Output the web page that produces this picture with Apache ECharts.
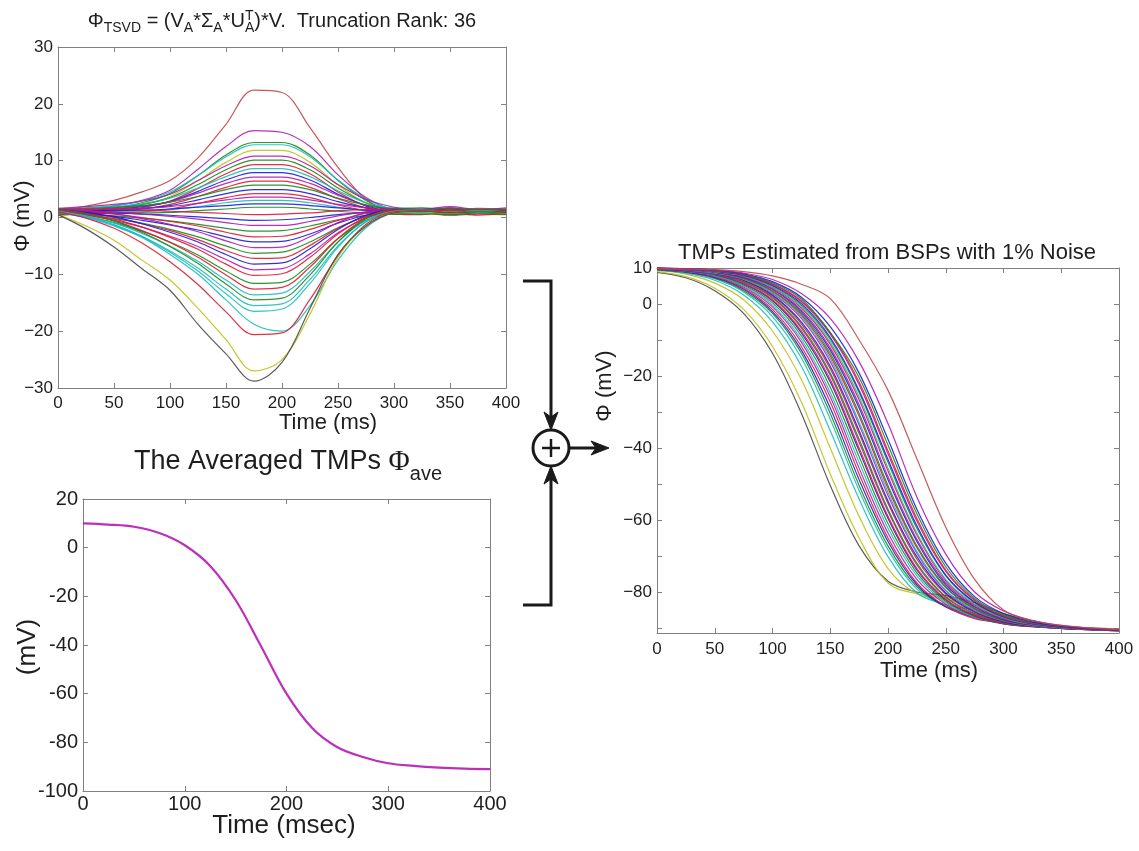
<!DOCTYPE html>
<html>
<head>
<meta charset="utf-8">
<title>TSVD TMP estimation</title>
<script src="https://cdn.jsdelivr.net/npm/echarts@6/dist/echarts.min.js"></script>
<style>
  html, body { margin: 0; padding: 0; background: #ffffff; }
  #chart { width: 1139px; height: 851px; }
</style>
</head>
<body>
<div id="chart"></div>
<script>
// ---------------------------------------------------------------------------
// Data
// ---------------------------------------------------------------------------
// Sample times (ms) shared by every curve
const timeMs = [0, 25, 50, 75, 100, 125, 150, 175, 200, 225, 250, 275, 300, 325, 350, 375, 400];

// Phi_TSVD = (V_A * Sigma_A * U_A^T) * V, one row per lead (mV)
const tsvdResidual = [
  [1.0, 2.0, 3.0, 4.5, 6.5, 10.5, 16.4, 22.4, 22.0, 15.8, 8.8, 3.2, 1.0, 1.2, 0.8, 1.3, 1.0],
  [1.0, 1.5, 2.0, 3.0, 4.8, 8.5, 12.5, 15.3, 15.0, 12.5, 7.5, 3.5, 1.3, 1.0, 1.2, 0.9, 1.1],
  [0.8, 1.2, 1.7, 2.6, 4.2, 7.4, 11.0, 13.2, 13.2, 11.0, 6.5, 3.0, 1.1, 0.9, 1.2, 0.7, 1.0],
  [1.3, 1.7, 2.1, 2.9, 4.5, 7.4, 10.7, 12.8, 12.8, 10.7, 6.6, 3.3, 1.5, 1.4, 0.9, 1.3, 1.1],
  [0.6, 0.9, 1.4, 2.2, 3.7, 6.5, 9.7, 11.8, 11.8, 9.7, 5.7, 2.5, 0.8, 1.1, 0.6, 1.0, 0.8],
  [1.6, 1.9, 2.3, 2.9, 4.1, 6.5, 9.1, 10.8, 10.8, 9.1, 5.8, 3.2, 1.8, 1.5, 1.9, 1.4, 1.7],
  [1.0, 1.3, 1.7, 2.3, 3.5, 5.8, 8.4, 10.1, 10.1, 8.4, 5.2, 2.6, 1.2, 1.0, 1.3, 0.8, 1.2],
  [0.4, 0.7, 1.0, 1.7, 2.9, 5.1, 7.7, 9.3, 9.3, 7.7, 4.5, 2.0, 0.6, 0.5, 0.9, 0.4, 0.7],
  [1.4, 1.6, 1.9, 2.4, 3.4, 5.2, 7.2, 8.6, 8.6, 7.2, 4.7, 2.6, 1.6, 1.3, 1.7, 1.2, 1.5],
  [0.9, 1.1, 1.4, 1.9, 2.8, 4.6, 6.6, 7.9, 7.9, 6.6, 4.1, 2.1, 1.0, 1.2, 0.8, 1.1, 0.9],
  [1.2, 1.4, 1.6, 2.0, 2.8, 4.3, 6.0, 7.1, 7.1, 6.0, 3.9, 2.2, 1.3, 1.1, 1.5, 1.0, 1.3],
  [0.7, 0.9, 1.1, 1.5, 2.3, 3.7, 5.3, 6.4, 6.4, 5.3, 3.3, 1.7, 0.8, 0.6, 1.0, 0.7, 0.9],
  [1.5, 1.6, 1.8, 2.1, 2.7, 3.7, 4.9, 5.7, 5.7, 4.9, 3.4, 2.2, 1.6, 1.7, 1.3, 1.6, 1.4],
  [1.0, 1.1, 1.3, 1.6, 2.1, 3.1, 4.2, 4.9, 4.9, 4.2, 2.8, 1.7, 1.0, 1.2, 0.9, 1.1, 1.0],
  [0.5, 0.6, 0.8, 1.0, 1.5, 2.5, 3.5, 4.2, 4.2, 3.5, 2.2, 1.2, 0.6, 0.7, 0.4, 0.6, 0.5],
  [1.3, 1.4, 1.5, 1.6, 1.9, 2.5, 3.1, 3.6, 3.6, 3.1, 2.3, 1.7, 1.3, 1.5, 1.2, 1.4, 1.3],
  [0.8, 0.9, 1.0, 1.1, 1.4, 1.9, 2.6, 3.0, 3.0, 2.6, 1.8, 1.2, 0.8, 1.0, 0.7, 0.9, 0.8],
  [1.1, 1.1, 1.2, 1.3, 1.5, 1.8, 2.1, 2.4, 2.4, 2.1, 1.7, 1.3, 1.1, 1.2, 1.0, 1.2, 1.1],
  [0.6, 0.6, 0.7, 0.8, 0.9, 1.2, 1.5, 1.8, 1.8, 1.5, 1.1, 0.8, 0.6, 0.8, 0.5, 0.7, 0.6],
  [1.5, 1.5, 1.4, 1.3, 1.1, 0.9, 0.7, 0.5, 0.6, 0.8, 1.2, 1.4, 1.5, 1.3, 1.6, 1.4, 1.5],
  [1.0, 0.9, 0.8, 0.6, 0.4, 0.1, -0.2, -0.5, -0.4, 0.0, 0.5, 0.9, 1.0, 1.2, 0.8, 1.1, 0.9],
  [1.3, 1.2, 0.9, 0.6, 0.2, -0.3, -0.9, -1.4, -1.4, -0.7, 0.3, 1.0, 1.3, 1.1, 1.4, 1.2, 1.3],
  [0.7, 0.5, 0.3, -0.1, -0.6, -1.2, -1.9, -2.4, -2.3, -1.5, -0.4, 0.4, 0.7, 0.9, 0.5, 0.8, 0.6],
  [1.2, 1.0, 0.6, 0.0, -0.7, -1.5, -2.6, -3.4, -3.3, -2.1, -0.5, 0.7, 1.2, 1.0, 1.3, 0.9, 1.2],
  [0.9, 0.6, 0.2, -0.5, -1.3, -2.2, -3.4, -4.3, -4.2, -2.9, -1.0, 0.4, 0.9, 1.1, 0.7, 1.0, 0.8],
  [1.6, 1.2, 0.7, -0.2, -1.2, -2.5, -4.1, -5.3, -5.2, -3.4, -0.9, 0.9, 1.6, 1.4, 1.7, 1.3, 1.5],
  [0.8, 0.4, -0.2, -1.0, -2.1, -3.4, -5.0, -6.3, -6.1, -4.3, -1.8, 0.1, 0.8, 0.6, 1.0, 0.7, 0.9],
  [1.1, 0.7, 0.0, -1.1, -2.3, -3.9, -5.8, -7.2, -7.1, -4.9, -1.9, 0.2, 1.1, 1.3, 0.9, 1.2, 1.0],
  [1.4, 0.9, 0.1, -1.1, -2.6, -4.3, -6.5, -8.2, -8.0, -5.5, -2.1, 0.4, 1.4, 1.2, 1.5, 1.1, 1.3],
  [0.9, 0.4, -0.5, -1.7, -3.3, -5.1, -7.4, -9.2, -9.0, -6.4, -2.7, -0.1, 0.9, 1.1, 0.7, 1.0, 0.8],
  [1.2, 0.6, -0.3, -1.7, -3.5, -5.6, -8.2, -10.2, -9.9, -7.0, -2.9, 0.0, 1.2, 1.0, 1.3, 0.9, 1.1],
  [0.8, 0.2, -0.9, -2.4, -4.3, -6.6, -9.4, -11.6, -11.4, -8.2, -3.7, -0.5, 0.8, 1.0, 0.6, 0.9, 0.7],
  [1.3, 0.6, -0.6, -2.3, -4.4, -7.0, -10.1, -12.6, -12.3, -8.7, -3.7, -0.1, 1.3, 1.1, 1.4, 1.0, 1.2],
  [1.0, 0.3, -1.0, -2.8, -5.0, -7.7, -11.0, -13.6, -13.3, -9.5, -4.3, -0.5, 1.0, 1.2, 0.8, 1.1, 0.9],
  [1.5, 0.7, -0.6, -2.6, -5.1, -8.1, -11.7, -14.5, -14.2, -10.1, -4.3, -0.2, 1.5, 1.3, 1.6, 1.2, 1.4],
  [0.9, 0.0, -1.3, -3.3, -5.9, -8.9, -12.6, -15.5, -15.2, -10.9, -5.0, -0.8, 0.9, 0.7, 1.1, 0.8, 1.0],
  [1.1, 0.2, -1.3, -3.4, -6.1, -9.4, -13.4, -16.5, -16.1, -11.6, -5.2, -0.7, 1.1, 1.3, 0.9, 1.2, 1.0],
  [1.0, 0.0, -1.5, -3.5, -6.5, -10.0, -14.5, -18.8, -20.0, -15.5, -7.5, -1.8, 0.8, 1.1, 0.8, 1.0, 0.9],
  [1.0, -0.1, -1.9, -4.5, -7.8, -11.8, -16.6, -20.6, -20.3, -14.4, -6.7, -1.2, 1.0, 1.2, 0.9, 1.1, 1.0],
  [0.5, -1.5, -4.0, -7.5, -11.0, -16.0, -21.5, -27.0, -25.0, -17.0, -7.0, -1.5, 0.8, 1.0, 0.7, 1.0, 0.8],
  [0.5, -2.0, -5.2, -9.0, -12.8, -18.8, -24.0, -28.8, -25.5, -16.0, -6.5, -1.5, 0.8, 1.1, 0.8, 1.0, 0.9]
];
const tsvdColorKeys = ['R','m','g','c','y','m','g','r','c','b','m','r','g','b','r','m','c','b','g',
                       'r','b','m','g','r','b','m','g','r','b','m','r','g','r','c','g','c','c','c','r','y','k'];

// Averaged TMP Phi_ave (mV)
const averagedTmp = [10.0, 9.5, 8.6, 6.0, 1.0, -7.5, -21.5, -40.5, -60.0, -74.0, -82.0, -86.0, -88.6, -89.7, -90.4, -90.8, -91.0];

// TMPs estimated from BSPs with 1% noise, one row per node (mV)
const estimatedTmp = [
  [8.8, 7.3, 3.7, -2.6, -13.7, -30.4, -50.4, -67.2, -77.0, -80.0, -81.0, -83.0, -86.0, -88.0, -89.5, -90.0, -90.3],
  [9.0, 7.6, 4.4, -1.5, -11.8, -27.2, -47.2, -65.0, -77.5, -80.5, -81.5, -83.5, -86.5, -88.5, -89.5, -90.0, -90.4],
  [9.3, 8.3, 5.8, 1.2, -7.5, -21.0, -40.0, -59.0, -73.5, -80.5, -82.0, -84.0, -86.5, -88.5, -89.5, -90.2, -90.5],
  [9.4, 8.5, 6.6, 2.5, -5.0, -17.3, -35.2, -54.2, -70.2, -80.3, -83.5, -85.0, -87.0, -88.7, -89.6, -90.2, -90.5],
  [9.5, 8.7, 7.0, 3.3, -3.5, -15.0, -32.0, -51.8, -68.3, -79.2, -84.0, -86.0, -87.3, -88.8, -89.7, -90.2, -90.6],
  [9.5, 8.8, 7.2, 3.7, -2.6, -13.7, -30.4, -50.4, -67.2, -78.6, -84.0, -86.5, -87.8, -88.9, -89.8, -90.3, -90.6],
  [9.6, 8.9, 7.4, 4.1, -2.1, -12.8, -28.9, -48.8, -66.0, -78.0, -84.2, -87.0, -88.0, -89.0, -89.8, -90.3, -90.6],
  [9.6, 9.0, 7.6, 4.4, -1.5, -11.8, -27.2, -47.2, -65.0, -77.5, -84.0, -87.4, -88.5, -89.2, -89.9, -90.3, -90.6],
  [9.6, 9.0, 7.8, 4.7, -0.8, -10.6, -25.8, -45.6, -63.6, -76.5, -83.4, -87.2, -88.5, -89.2, -89.9, -90.3, -90.6],
  [9.7, 9.1, 7.9, 5.0, -0.3, -9.8, -24.6, -44.0, -62.3, -75.5, -83.0, -87.0, -88.7, -89.4, -90.0, -90.4, -90.7],
  [9.7, 9.2, 8.1, 5.3, 0.3, -8.9, -23.1, -42.4, -61.0, -74.7, -82.6, -86.8, -88.9, -89.6, -90.0, -90.4, -90.7],
  [9.7, 9.2, 8.2, 5.6, 0.9, -8.0, -21.7, -40.8, -59.6, -73.9, -82.2, -86.6, -88.8, -89.6, -90.1, -90.5, -90.8],
  [9.7, 9.3, 8.3, 5.8, 1.2, -7.5, -21.0, -40.0, -59.0, -73.5, -82.0, -86.5, -88.8, -89.7, -90.1, -90.4, -90.7],
  [9.8, 9.3, 8.4, 6.1, 1.7, -6.7, -19.8, -38.4, -57.6, -72.5, -81.5, -86.2, -88.7, -89.6, -90.1, -90.5, -90.8],
  [9.8, 9.4, 8.4, 6.2, 1.9, -6.3, -19.2, -37.6, -57.0, -72.0, -81.3, -86.0, -88.6, -89.6, -90.1, -90.5, -90.7],
  [9.8, 9.4, 8.5, 6.5, 2.3, -5.5, -18.0, -36.0, -55.4, -70.9, -80.6, -85.7, -88.4, -89.5, -90.1, -90.5, -90.8],
  [9.8, 9.4, 8.5, 6.6, 2.5, -5.0, -17.3, -35.2, -54.7, -70.2, -80.3, -85.5, -88.3, -89.5, -90.1, -90.5, -90.7],
  [9.8, 9.5, 8.6, 6.8, 2.9, -4.0, -16.0, -33.6, -53.2, -69.2, -79.7, -85.2, -88.1, -89.4, -90.0, -90.4, -90.7],
  [9.8, 9.5, 8.6, 6.9, 3.1, -3.5, -15.2, -32.8, -52.3, -68.8, -79.5, -85.0, -88.0, -89.4, -90.0, -90.4, -90.7],
  [9.9, 9.5, 8.8, 7.1, 3.5, -3.0, -14.4, -31.2, -51.2, -67.7, -78.8, -84.7, -87.9, -89.3, -90.0, -90.4, -90.7],
  [9.9, 9.5, 8.8, 7.2, 3.7, -2.6, -13.7, -30.4, -50.4, -67.2, -78.6, -84.6, -87.8, -89.3, -90.0, -90.4, -90.7],
  [9.9, 9.6, 8.9, 7.4, 4.1, -2.1, -12.8, -28.9, -48.8, -66.0, -78.0, -84.2, -87.6, -89.2, -90.0, -90.4, -90.7],
  [9.9, 9.6, 8.9, 7.5, 4.2, -1.7, -12.2, -28.0, -48.0, -65.4, -77.5, -84.0, -87.5, -89.2, -90.0, -90.4, -90.7],
  [9.9, 9.7, 9.0, 7.7, 4.6, -1.1, -11.2, -26.6, -46.4, -64.2, -76.9, -83.6, -87.3, -89.0, -89.9, -90.4, -90.7],
  [9.9, 9.7, 9.0, 7.8, 4.7, -0.8, -10.6, -25.8, -45.6, -63.6, -76.5, -83.4, -87.2, -89.0, -89.9, -90.4, -90.7],
  [10.0, 9.7, 9.1, 7.9, 5.0, -0.3, -9.8, -24.6, -44.0, -62.3, -75.5, -83.0, -87.0, -88.9, -89.8, -90.3, -90.6],
  [10.0, 9.7, 9.1, 8.0, 5.2, 0.1, -9.3, -24.0, -43.2, -61.6, -75.3, -82.8, -86.9, -88.8, -89.8, -90.3, -90.6],
  [10.0, 9.8, 9.2, 8.1, 5.5, 0.6, -8.4, -22.4, -41.6, -60.3, -74.3, -82.4, -86.7, -88.7, -89.7, -90.3, -90.6],
  [10.0, 9.8, 9.2, 8.2, 5.6, 0.9, -8.0, -21.7, -40.8, -59.6, -73.9, -82.2, -86.6, -88.6, -89.7, -90.3, -90.6],
  [10.0, 9.8, 9.3, 8.3, 5.9, 1.4, -7.9, -20.4, -39.2, -58.3, -73.0, -81.8, -86.3, -88.5, -89.6, -90.2, -90.6],
  [10.0, 9.8, 9.4, 8.4, 6.2, 1.9, -6.3, -19.2, -37.6, -57.0, -72.0, -81.3, -86.0, -88.3, -89.5, -90.2, -90.6],
  [10.0, 9.8, 9.5, 8.6, 6.8, 2.9, -4.0, -16.0, -33.2, -53.6, -69.5, -80.0, -85.3, -87.9, -89.3, -90.1, -90.5],
  [9.8, 9.7, 9.5, 9.0, 7.8, 5.5, 1.5, -10.0, -24.0, -43.0, -62.0, -76.5, -85.0, -88.0, -89.3, -90.0, -90.5]
];
const estimatedColorKeys = ['k','y','y','c','c','g','b','r','m','c','g','b','r','m','g','r','b','m','c','r',
                            'g','b','m','r','c','g','b','m','r','g','b','m','R'];

// Tick values
const estYTicks = [-90, -80, -70, -60, -50, -40, -30, -20, -10, 0, 10];
const estYLabels = [-80, -60, -40, -20, 0, 10];

// ---------------------------------------------------------------------------
// Styling helpers
// ---------------------------------------------------------------------------
const palette = {
  b: '#1a1ae0', g: '#1a8a1a', r: '#e01a30', c: '#1abcbc',
  m: '#b01ab0', y: '#c0c01a', k: '#4a4a4a', R: '#c04848'
};
const SANS = '"Liberation Sans", Arial, sans-serif';
const SERIF = '"Liberation Serif", "DejaVu Serif", serif';
const FRAME = '#808080';
const INK = '#1e1e1e';
const minusSign = v => String(v).replace('-', '\u2212');

function frameAxis(gridIndex, position, cfg, showLabels) {
  const ax = {
    gridIndex, type: 'value', position,
    min: cfg.min, max: cfg.max,
    axisLine: { show: true, onZero: false, lineStyle: { color: FRAME, width: 1 } },
    axisTick: { show: true, inside: true, length: 5, lineStyle: { color: FRAME, width: 1 } },
    splitLine: { show: false },
    axisLabel: {
      show: showLabels, color: INK, fontFamily: SANS, fontSize: cfg.fontSize,
      margin: cfg.margin, formatter: cfg.formatter || (v => String(v)),
      showMinLabel: true, showMaxLabel: true
    }
  };
  if (cfg.interval !== undefined) ax.interval = cfg.interval;
  if (cfg.tickValues) ax.axisTick.customValues = cfg.tickValues;
  if (cfg.labelValues) ax.axisLabel.customValues = cfg.labelValues;
  return ax;
}

const xCfg = [
  { min: 0, max: 400, interval: 50, fontSize: 17, margin: 7, formatter: minusSign },
  { min: 0, max: 400, interval: 100, fontSize: 20, margin: 3 },
  { min: 0, max: 400, interval: 50, fontSize: 17, margin: 8, formatter: minusSign }
];
const yCfg = [
  { min: -30, max: 30, interval: 10, fontSize: 17, margin: 5, formatter: minusSign },
  { min: -100, max: 20, interval: 20, fontSize: 20, margin: 5 },
  { min: -91.4, max: 10, fontSize: 17, margin: 5, formatter: minusSign,
    tickValues: estYTicks, labelValues: estYLabels }
];

const xAxes = [], yAxes = [];
for (let g = 0; g < 3; g++) {
  xAxes.push(frameAxis(g, 'bottom', xCfg[g], true), frameAxis(g, 'top', xCfg[g], false));
  yAxes.push(frameAxis(g, 'left', yCfg[g], true), frameAxis(g, 'right', yCfg[g], false));
}

function lineSeries(values, axisIdx, color, width) {
  return {
    type: 'line', xAxisIndex: axisIdx, yAxisIndex: axisIdx,
    data: timeMs.map((t, k) => [t, values[k]]),
    showSymbol: false, smooth: 0.35, silent: true,
    lineStyle: { color, width, opacity: 0.9 }
  };
}

const series = [];
tsvdResidual.forEach((row, i) => series.push(lineSeries(row, 0, palette[tsvdColorKeys[i]], 1.2)));
series.push(lineSeries(averagedTmp, 2, '#b418b4', 2.2));
estimatedTmp.forEach((row, i) => series.push(lineSeries(row, 4, palette[estimatedColorKeys[i]], 1.2)));

// ---------------------------------------------------------------------------
// Text runs (titles with sub/superscripts) laid out with canvas metrics
// ---------------------------------------------------------------------------
const measureCtx = document.createElement('canvas').getContext('2d');
function textWidth(str, size, family) {
  measureCtx.font = size + 'px ' + family;
  return measureCtx.measureText(str).width;
}
function runLine(runs, cx, cy) {
  let cursor = 0, lastStart = 0;
  const placed = [];
  runs.forEach(r => {
    const fam = r.family || SANS;
    const w = textWidth(r.t, r.size, fam);
    const start = r.stack ? lastStart : cursor;
    placed.push({ r, fam, x: start });
    if (r.stack) { cursor = Math.max(cursor, start + w); }
    else { lastStart = cursor; cursor = start + w; }
  });
  const left = cx - cursor / 2;
  return placed.map(p => ({
    type: 'text', silent: true,
    style: {
      text: p.r.t, x: left + p.x, y: cy + (p.r.dy || 0),
      font: p.r.size + 'px ' + p.fam, fill: INK,
      textAlign: 'left', textVerticalAlign: 'middle'
    }
  }));
}
function label(text, x, y, size, rotated) {
  return {
    type: 'text', silent: true, x, y, rotation: rotated ? Math.PI / 2 : 0,
    style: {
      text, x: 0, y: 0, font: size + 'px ' + SANS, fill: INK,
      textAlign: 'center', textVerticalAlign: 'middle'
    }
  };
}

const graphics = [];
graphics.push(...runLine([
  { t: 'Φ', size: 20 }, { t: 'TSVD', size: 14, dy: 7 },
  { t: ' = (V', size: 20 }, { t: 'A', size: 14, dy: 7 },
  { t: '*Σ', size: 20 }, { t: 'A', size: 14, dy: 7 },
  { t: '*U', size: 20 }, { t: 'A', size: 14, dy: 7 }, { t: 'T', size: 14, dy: -5, stack: true },
  { t: ')*V.  Truncation Rank: 36', size: 20 }
], 282, 21));
graphics.push(...runLine([
  { t: 'The Averaged TMPs ', size: 27 },
  { t: 'Φ', size: 29, family: SERIF },
  { t: 'ave', size: 20, dy: 12 }
], 288, 462));
graphics.push(...runLine([{ t: 'TMPs Estimated from BSPs with 1% Noise', size: 22 }], 887, 253));

graphics.push(label('Φ (mV)', 23, 216, 22, true));
graphics.push(label('Time (ms)', 328, 423, 22, false));
graphics.push(label('(mV)', 28, 647, 26, true));
graphics.push(label('Time (msec)', 284, 826, 26, false));
graphics.push(label('Φ (mV)', 605, 386, 22, true));
graphics.push(label('Time (ms)', 929, 671, 22, false));

// Summation block joining the two left panels into the right one
const STROKE = { stroke: '#1a1a1a', lineWidth: 3, fill: null };
const HEAD = { fill: '#1a1a1a', stroke: '#1a1a1a', lineWidth: 1 };
graphics.push(
  { type: 'polyline', silent: true, shape: { points: [[523, 281], [551, 281], [551, 418]] }, style: STROKE },
  { type: 'polygon', silent: true, shape: { points: [[551, 430], [544, 412], [551, 417], [558, 412]] }, style: HEAD },
  { type: 'polyline', silent: true, shape: { points: [[523, 605], [551, 605], [551, 478]] }, style: STROKE },
  { type: 'polygon', silent: true, shape: { points: [[551, 466], [544, 484], [551, 479], [558, 484]] }, style: HEAD },
  { type: 'circle', silent: true, shape: { cx: 551, cy: 448, r: 18 }, style: STROKE },
  { type: 'line', silent: true, shape: { x1: 542, y1: 448, x2: 560, y2: 448 }, style: { stroke: '#1a1a1a', lineWidth: 2.5 } },
  { type: 'line', silent: true, shape: { x1: 551, y1: 439, x2: 551, y2: 457 }, style: { stroke: '#1a1a1a', lineWidth: 2.5 } },
  { type: 'line', silent: true, shape: { x1: 569, y1: 448, x2: 597, y2: 448 }, style: { stroke: '#1a1a1a', lineWidth: 3 } },
  { type: 'polygon', silent: true, shape: { points: [[609, 448], [591, 441], [596, 448], [591, 455]] }, style: HEAD }
);

// ---------------------------------------------------------------------------
// Chart
// ---------------------------------------------------------------------------
const chart = echarts.init(document.getElementById('chart'), null, { renderer: 'canvas' });
chart.setOption({
  animation: false,
  backgroundColor: '#ffffff',
  grid: [
    { left: 58, top: 47, width: 448, height: 341 },
    { left: 83, top: 499, width: 407, height: 292 },
    { left: 657, top: 268, width: 462, height: 365 }
  ],
  xAxis: xAxes,
  yAxis: yAxes,
  series,
  graphic: { elements: graphics }
});
</script>
</body>
</html>
